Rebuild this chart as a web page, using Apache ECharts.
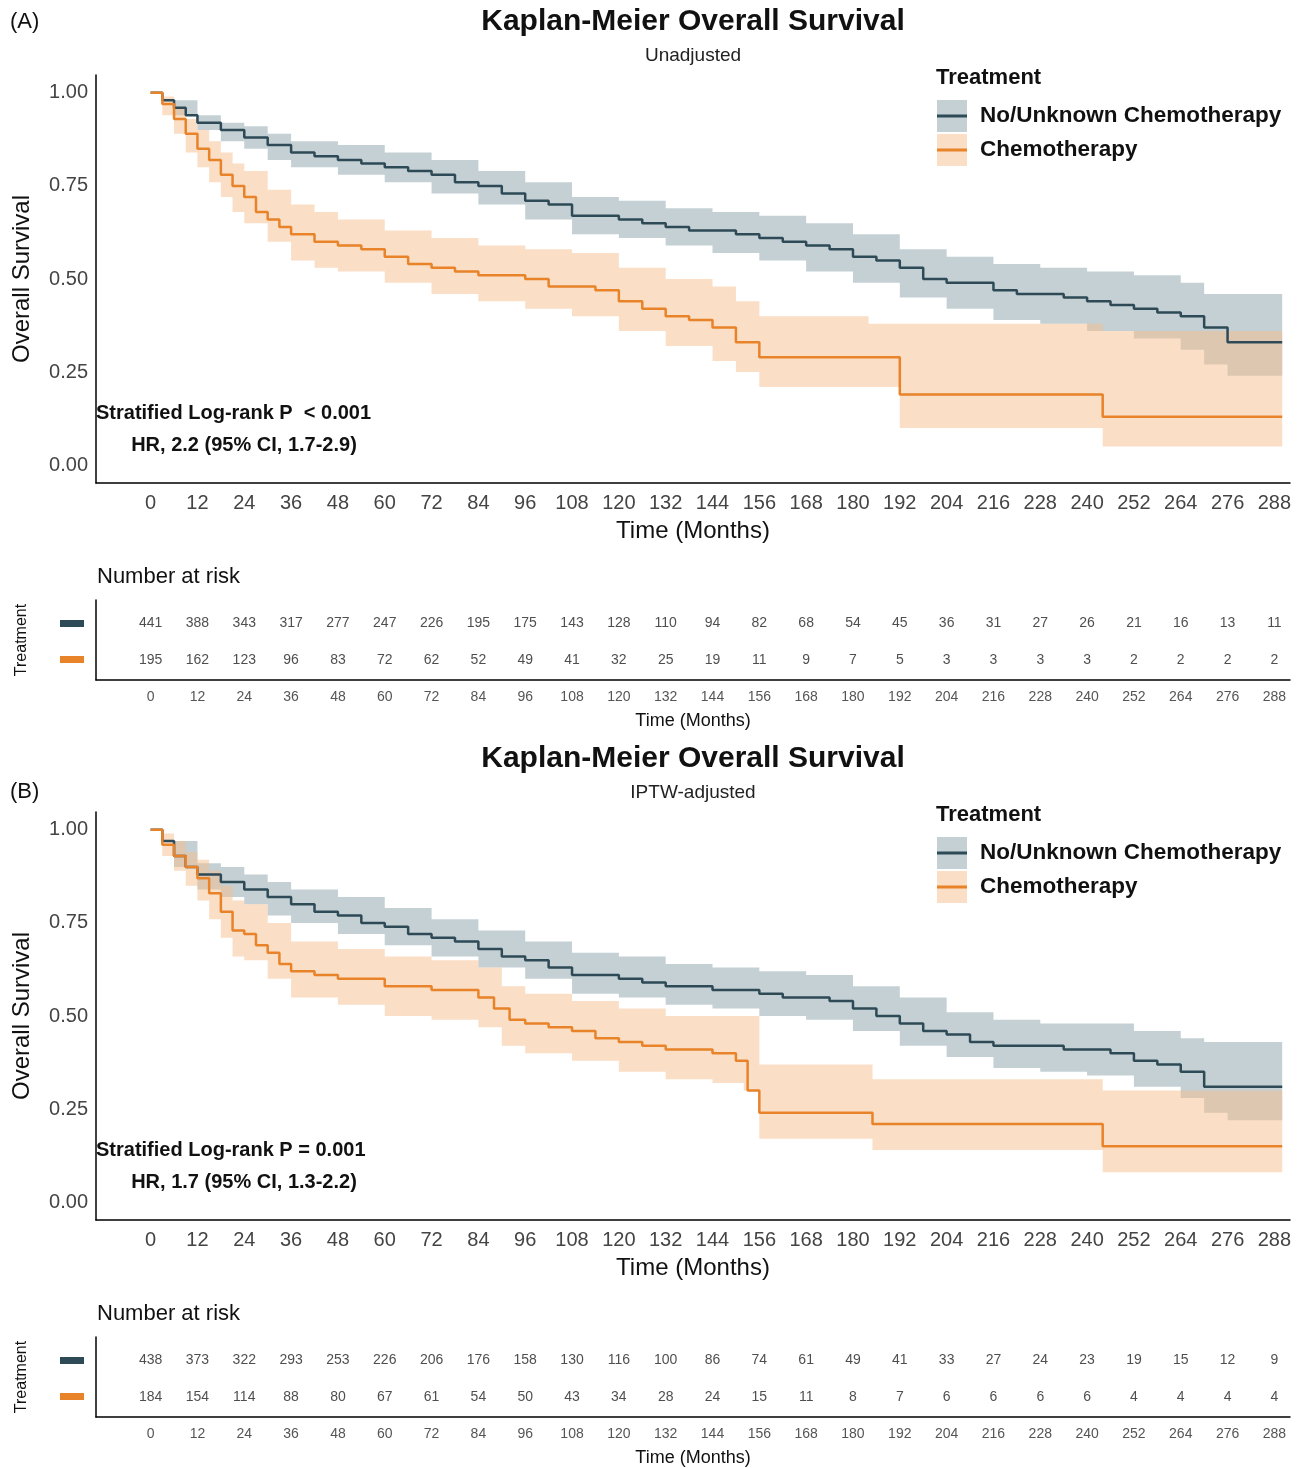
<!DOCTYPE html>
<html>
<head>
<meta charset="utf-8">
<script src="https://cdn.jsdelivr.net/npm/echarts@6/dist/echarts.min.js"></script>
</head>
<body style="margin:0;background:#fff">
<div id="main" style="width:1306px;height:1468px;"></div>
<script type="text/javascript">
// month ticks
var monthTicks = [0,12,24,36,48,60,72,84,96,108,120,132,144,156,168,180,192,204,216,228,240,252,264,276,288];
var survTicks = [0, 0.25, 0.5, 0.75, 1];

// Panel A (unadjusted)
var aNoTime = [0,3,6,9,12,18,24,30,36,42,48,54,60,66,72,78,84,90,96,102,108,114,120,126,132,138,144,150,156,162,168,174,180,186,192,198,204,210,216,222,228,234,240,246,252,258,264,270,276,290];
var aNoSurv = [1,.98,.96,.94,.92,.90,.88,.86,.84,.83,.82,.81,.80,.79,.78,.76,.75,.73,.71,.70,.67,.67,.66,.65,.64,.63,.63,.62,.61,.60,.59,.58,.56,.55,.53,.50,.49,.49,.47,.46,.46,.45,.44,.43,.42,.41,.40,.37,.33,.33];
var aNoBandTime = [0,6,12,18,24,30,36,48,60,72,84,96,108,120,132,144,156,168,180,192,204,216,228,240,252,264,270,276,290];
var aNoLo = [1,.94,.90,.87,.85,.82,.80,.78,.76,.73,.70,.66,.62,.61,.59,.57,.55,.52,.49,.45,.42,.39,.38,.36,.34,.31,.27,.24,.24];
var aNoHi = [1,.98,.94,.92,.91,.89,.87,.86,.84,.82,.79,.76,.72,.71,.69,.68,.67,.65,.62,.58,.56,.54,.53,.52,.51,.49,.46,.46,.46];
var aChTime = [0,3,6,9,12,15,18,21,24,27,30,33,36,42,48,54,60,66,72,78,84,90,96,102,108,114,120,126,132,138,144,150,156,192,244,290];
var aChSurv = [1,.97,.93,.89,.85,.82,.78,.75,.72,.68,.66,.64,.62,.60,.59,.58,.56,.54,.53,.52,.51,.51,.50,.48,.48,.47,.44,.42,.40,.39,.37,.33,.29,.19,.13,.13];
var aChBandTime = [0,3,6,9,12,15,18,21,24,30,36,42,48,60,72,84,96,108,120,132,144,150,156,184,192,244,290];
var aChLo = [1,.94,.89,.84,.80,.76,.72,.68,.65,.60,.55,.53,.52,.49,.46,.44,.42,.40,.36,.32,.28,.25,.21,.21,.10,.05,.05];
var aChHi = [1,.99,.96,.93,.90,.87,.84,.81,.79,.74,.70,.68,.66,.63,.61,.59,.58,.57,.53,.50,.48,.44,.40,.38,.38,.36,.36];
var aRiskNo = [441,388,343,317,277,247,226,195,175,143,128,110,94,82,68,54,45,36,31,27,26,21,16,13,11];
var aRiskCh = [195,162,123,96,83,72,62,52,49,41,32,25,19,11,9,7,5,3,3,3,3,2,2,2,2];

// Panel B (IPTW-adjusted)
var bNoTime = aNoTime;
var bNoSurv = [1,.97,.93,.90,.88,.86,.84,.82,.80,.78,.77,.75,.74,.72,.71,.70,.68,.66,.65,.63,.61,.61,.60,.59,.58,.58,.57,.57,.56,.55,.55,.54,.52,.50,.48,.46,.45,.43,.42,.42,.42,.41,.41,.40,.38,.37,.35,.31,.31,.31];
var bNoBandTime = aNoBandTime;
var bNoLo = [1,.90,.84,.82,.80,.77,.75,.72,.69,.66,.63,.60,.56,.55,.53,.52,.50,.49,.46,.42,.39,.36,.35,.34,.31,.28,.24,.22,.22];
var bNoHi = [1,.97,.91,.90,.88,.86,.84,.82,.79,.76,.73,.70,.67,.66,.64,.63,.62,.61,.58,.55,.51,.49,.48,.48,.46,.44,.43,.43,.43];
var bChTime = [0,3,6,9,12,15,18,21,24,27,30,33,36,42,48,60,72,84,88,92,96,102,108,114,120,126,132,138,144,150,153,156,185,244,290];
var bChSurv = [1,.96,.93,.90,.87,.83,.78,.73,.72,.69,.67,.64,.62,.61,.60,.58,.57,.55,.52,.49,.48,.47,.46,.44,.43,.42,.41,.41,.40,.38,.30,.24,.21,.15,.15];
var bChBandTime = [0,3,6,9,12,15,18,21,24,30,36,48,60,72,84,90,96,108,120,132,144,152,156,185,244,290];
var bChLo = [1,.93,.89,.85,.81,.76,.71,.66,.65,.60,.55,.53,.50,.49,.47,.42,.40,.38,.35,.33,.32,.30,.17,.14,.08,.08];
var bChHi = [1,.99,.97,.94,.92,.89,.85,.81,.80,.75,.70,.68,.66,.65,.63,.58,.56,.54,.52,.50,.50,.50,.37,.33,.30,.30];
var bRiskNo = [438,373,322,293,253,226,206,176,158,130,116,100,86,74,61,49,41,33,27,24,23,19,15,12,9];
var bRiskCh = [184,154,114,88,80,67,61,54,50,43,34,28,24,15,11,8,7,6,6,6,6,4,4,4,4];

var DARK = '#2e4a56', ORANGE = '#e8832a';
var GRAYBAND = 'rgba(125,150,160,0.45)', ORBAND = 'rgba(246,190,140,0.5)';
var FONT = 'Liberation Sans';

var myChart = echarts.init(document.getElementById('main'));
var grids = [], xAxes = [], yAxes = [], series = [], graphic = [];

function zip(t, v) { return t.map(function (x, i) { return [x, v[i]]; }); }

function band(ax, t, lo, hi, color) {
    return {
        type: 'custom', xAxisIndex: ax, yAxisIndex: ax, silent: true, z: 1,
        data: [[0, 0]],
        renderItem: function (params, api) {
            var up = [], dn = [];
            for (var i = 0; i < t.length; i++) {
                up.push(api.coord([t[i], hi[i]]));
                dn.push(api.coord([t[i], lo[i]]));
                if (i < t.length - 1) {
                    up.push(api.coord([t[i + 1], hi[i]]));
                    dn.push(api.coord([t[i + 1], lo[i]]));
                }
            }
            return { type: 'polygon', shape: { points: up.concat(dn.reverse()) }, style: { fill: color } };
        }
    };
}

function panel(off, letter, sub, p, lr1, lr2, risk1, risk2) {
    var km = grids.length, rk = km + 1;
    grids.push({ left: 96, width: 1194, top: 75 + off, height: 408 });
    grids.push({ left: 96, width: 1194, top: 600 + off, height: 80 });
    var axLine = { show: true, onZero: false, lineStyle: { color: '#000', width: 1.5 } };
    xAxes.push({ gridIndex: km, type: 'value', min: -14, max: 292, axisLine: axLine,
        axisTick: { show: false }, splitLine: { show: false },
        axisLabel: { customValues: monthTicks, fontFamily: FONT, fontSize: 20, color: '#444', margin: 10 },
        name: 'Time (Months)', nameLocation: 'middle', nameGap: 36,
        nameTextStyle: { fontFamily: FONT, fontSize: 24, color: '#111' } });
    yAxes.push({ gridIndex: km, type: 'value', min: -0.048, max: 1.048, axisLine: axLine,
        axisTick: { show: false }, splitLine: { show: false },
        axisLabel: { customValues: survTicks, fontFamily: FONT, fontSize: 20, color: '#444', margin: 8,
            formatter: function (v) { return v.toFixed(2); } } });
    xAxes.push({ gridIndex: rk, type: 'value', min: -14, max: 292, axisLine: axLine,
        axisTick: { show: false }, splitLine: { show: false },
        axisLabel: { customValues: monthTicks, fontFamily: FONT, fontSize: 14, color: '#555', margin: 10 },
        name: 'Time (Months)', nameLocation: 'middle', nameGap: 32,
        nameTextStyle: { fontFamily: FONT, fontSize: 18, color: '#111' } });
    yAxes.push({ gridIndex: rk, type: 'value', min: 0, max: 1, axisLine: axLine,
        axisTick: { show: false }, splitLine: { show: false }, axisLabel: { show: false } });

    series.push(band(km, p.noBT, p.noLo, p.noHi, GRAYBAND));
    series.push(band(km, p.chBT, p.chLo, p.chHi, ORBAND));
    series.push({ type: 'line', xAxisIndex: km, yAxisIndex: km, step: 'end', showSymbol: false, z: 3,
        data: zip(p.noT, p.noS), lineStyle: { color: DARK, width: 2.5 } });
    series.push({ type: 'line', xAxisIndex: km, yAxisIndex: km, step: 'end', showSymbol: false, z: 3,
        data: zip(p.chT, p.chS), lineStyle: { color: ORANGE, width: 2.5 } });
    [[risk1, 0.71], [risk2, 0.25]].forEach(function (r) {
        series.push({ type: 'scatter', xAxisIndex: rk, yAxisIndex: rk, symbolSize: 1,
            itemStyle: { color: 'transparent' },
            data: monthTicks.map(function (m, i) { return [m, r[1], r[0][i]]; }),
            label: { show: true, position: 'inside', fontFamily: FONT, fontSize: 14, color: '#222',
                formatter: function (d) { return d.value[2]; } } });
    });

    graphic.push({ type: 'text', x: 693, y: 22 + off, style: { text: 'Kaplan-Meier Overall Survival', font: 'bold 30px "' + FONT + '"', fill: '#111', textAlign: 'center', textVerticalAlign: 'middle' } });
    graphic.push({ type: 'text', x: 693, y: 56 + off, style: { text: sub, font: '19px "' + FONT + '"', fill: '#222', textAlign: 'center', textVerticalAlign: 'middle' } });
    graphic.push({ type: 'text', x: 10, y: (letter == '(A)' ? 22 : 55) + off, style: { text: letter, font: '22px "' + FONT + '"', fill: '#111', textVerticalAlign: 'middle' } });
    graphic.push({ type: 'text', x: 22, y: 279 + off, rotation: Math.PI / 2, style: { text: 'Overall Survival', font: '24px "' + FONT + '"', fill: '#111', textAlign: 'center', textVerticalAlign: 'middle' } });
    graphic.push({ type: 'text', x: 22, y: 640 + off, rotation: Math.PI / 2, style: { text: 'Treatment', font: '16px "' + FONT + '"', fill: '#111', textAlign: 'center', textVerticalAlign: 'middle' } });
    graphic.push({ type: 'text', x: 97, y: 577 + off, style: { text: 'Number at risk', font: '22px "' + FONT + '"', fill: '#111', textVerticalAlign: 'middle' } });
    graphic.push({ type: 'rect', shape: { x: 60, y: 620 + off, width: 24, height: 7 }, style: { fill: DARK } });
    graphic.push({ type: 'rect', shape: { x: 60, y: 656 + off, width: 24, height: 7 }, style: { fill: ORANGE } });
    graphic.push({ type: 'text', x: 96, y: 413 + off, style: { text: lr1, font: 'bold 20px "' + FONT + '"', fill: '#111', textVerticalAlign: 'middle' } });
    graphic.push({ type: 'text', x: 244, y: 445 + off, style: { text: lr2, font: 'bold 20px "' + FONT + '"', fill: '#111', textAlign: 'center', textVerticalAlign: 'middle' } });
    // legend
    graphic.push({ type: 'text', x: 936, y: 78 + off, style: { text: 'Treatment', font: 'bold 22px "' + FONT + '"', fill: '#111', textVerticalAlign: 'middle' } });
    [[116, GRAYBAND, DARK, 'No/Unknown Chemotherapy'], [150, ORBAND, ORANGE, 'Chemotherapy']].forEach(function (l) {
        graphic.push({ type: 'rect', shape: { x: 937, y: l[0] - 16 + off, width: 30, height: 32 }, style: { fill: l[1] } });
        graphic.push({ type: 'line', shape: { x1: 937, y1: l[0] + off, x2: 967, y2: l[0] + off }, style: { stroke: l[2], lineWidth: 3 } });
        graphic.push({ type: 'text', x: 980, y: l[0] + off, style: { text: l[3], font: 'bold 22.5px "' + FONT + '"', fill: '#111', textVerticalAlign: 'middle' } });
    });
}

panel(0, '(A)', 'Unadjusted',
    { noT: aNoTime, noS: aNoSurv, noBT: aNoBandTime, noLo: aNoLo, noHi: aNoHi,
      chT: aChTime, chS: aChSurv, chBT: aChBandTime, chLo: aChLo, chHi: aChHi },
    'Stratified Log-rank P  < 0.001', 'HR, 2.2 (95% CI, 1.7-2.9)', aRiskNo, aRiskCh);
panel(737, '(B)', 'IPTW-adjusted',
    { noT: bNoTime, noS: bNoSurv, noBT: bNoBandTime, noLo: bNoLo, noHi: bNoHi,
      chT: bChTime, chS: bChSurv, chBT: bChBandTime, chLo: bChLo, chHi: bChHi },
    'Stratified Log-rank P = 0.001', 'HR, 1.7 (95% CI, 1.3-2.2)', bRiskNo, bRiskCh);

var option = {
    backgroundColor: '#fff',
    animation: false,
    grid: grids, xAxis: xAxes, yAxis: yAxes, series: series, graphic: graphic
};
myChart.setOption(option);
</script>
</body>
</html>
